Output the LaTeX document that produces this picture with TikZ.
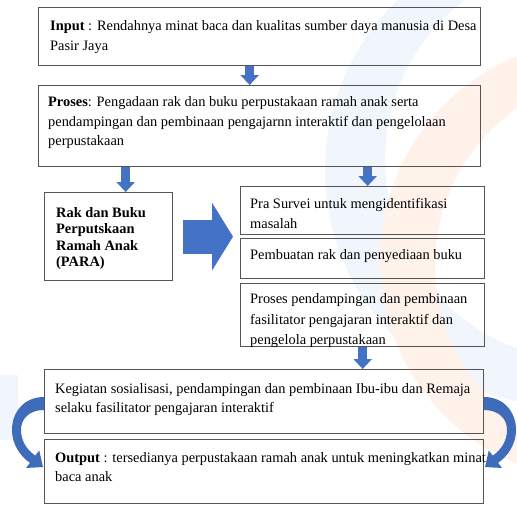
\documentclass[tikz,border=0pt]{standalone}
\usepackage{fontspec}
\setmainfont{Liberation Serif}
\usetikzlibrary{arrows.meta}
\definecolor{arrblue}{HTML}{4472C4}
\definecolor{curvblue}{HTML}{3F6CBA}
\definecolor{boxline}{HTML}{555555}
\definecolor{wmblue}{HTML}{F1F5FC}
\definecolor{wmpeach}{HTML}{FEF2EA}
\begin{document}
\begin{tikzpicture}[x=1pt,y=-1pt,
  box/.style={draw=boxline, line width=1.3pt, rectangle, inner sep=0pt, anchor=north west},
  txt/.style={anchor=north west, inner sep=0pt, align=left, font=\fontsize{14.4}{19.5}\selectfont},
  downarr/.style={draw=arrblue, line width=9pt, line cap=butt, -{Triangle[width=18pt,length=10pt]}},
  bigarr/.style={draw=arrblue, line width=34pt, line cap=butt, -{Triangle[width=67pt,length=21pt]}},
  curvarr/.style={fill=curvblue}
]
\useasboundingbox (0,0) rectangle (517,504);
% faint background logo
\begin{scope}
  \clip (0,0) rectangle (517,504);
  \fill[wmblue, even odd rule] (560,170) circle (235) (585,160) circle (200);
  \fill[wmpeach, even odd rule] (600,260) circle (220) (625,265) circle (190);
  \fill[wmblue] (0,375) rectangle (18,440);
\end{scope}

% boxes
\node[box, minimum width=442pt, minimum height=58pt] (in) at (38,7) {};
\node[box, minimum width=442pt, minimum height=81pt] (proc) at (38,85) {};
\node[box, minimum width=128pt, minimum height=88pt] (rak) at (44,192) {};
\node[box, minimum width=244pt, minimum height=48pt] (pra) at (240,186) {};
\node[box, minimum width=244pt, minimum height=40pt] (buat) at (240,238) {};
\node[box, minimum width=244pt, minimum height=63pt] (pend) at (240,283) {};
\node[box, minimum width=439pt, minimum height=64pt] (keg) at (44,369) {};
\node[box, minimum width=439pt, minimum height=64pt] (out) at (44,439) {};

% texts
\node[txt] (tin) at (50,16.9) {\strut\textbf{Input} : Rendahnya minat baca dan kualitas sumber daya manusia di Desa\\Pasir Jaya};
\node[txt] (tproc) at (48,92.9) {\strut\textbf{Proses}: Pengadaan rak dan buku perpustakaan ramah anak serta\\pendampingan dan pembinaan pengajarnn interaktif dan pengelolaan\\perpustakaan};
\node[txt, font=\bfseries\fontsize{14.4}{16.5}\selectfont] (trak) at (56,205.5) {\strut Rak dan Buku\\Perputskaan\\Ramah Anak\\(PARA)};
\node[txt] (tpra) at (250,194.9) {\strut Pra Survei untuk mengidentifikasi\\masalah};
\node[txt] (tbuat) at (250,245.9) {\strut Pembuatan rak dan penyediaan buku};
\node[txt, font=\fontsize{14.4}{20.5}\selectfont] (tpend) at (250,289.2) {\strut Proses pendampingan dan pembinaan\\fasilitator pengajaran interaktif dan\\pengelola perpustakaan};
\node[txt] (tkeg) at (55,379.4) {\strut Kegiatan sosialisasi, pendampingan dan pembinaan Ibu-ibu dan Remaja\\selaku fasilitator pengajaran interaktif};
\node[txt] (tout) at (55,448.4) {\strut\textbf{Output} : tersedianya perpustakaan ramah anak untuk meningkatkan minat\\baca anak};

% straight block arrows
\draw[downarr] ([xshift=-10pt]in.south) -- ([xshift=-10pt]proc.north);
\draw[downarr] ([xshift=-134pt]proc.south) -- ([xshift=17pt]rak.north);
\draw[downarr] ([xshift=108pt]proc.south) -- ([xshift=5pt]pra.north);
\draw[downarr] (pend.south) -- ([xshift=98.5pt]keg.north);
\draw[bigarr, shorten <=10pt, shorten >=7pt] (rak.east) -- (rak.east -| pra.west);

% curved arrows
\fill[curvarr] (44,397) .. controls (24,397) and (12,412) .. (12,430)
  .. controls (12,444) and (20,456) .. (29.9,462.8) -- (26,468) -- (43,467)
  -- (39.2,450.4) -- (35.3,455.6) .. controls (27,450) and (21,441) .. (21,430)
  .. controls (21,418) and (30,410) .. (44,410) -- cycle;
\begin{scope}[xshift=528pt, xscale=-1]
\fill[curvarr] (44,397) .. controls (24,397) and (12,412) .. (12,430)
  .. controls (12,444) and (20,456) .. (29.9,462.8) -- (26,468) -- (43,467)
  -- (39.2,450.4) -- (35.3,455.6) .. controls (27,450) and (21,441) .. (21,430)
  .. controls (21,418) and (30,410) .. (44,410) -- cycle;
\end{scope}
\end{tikzpicture}
\end{document}
